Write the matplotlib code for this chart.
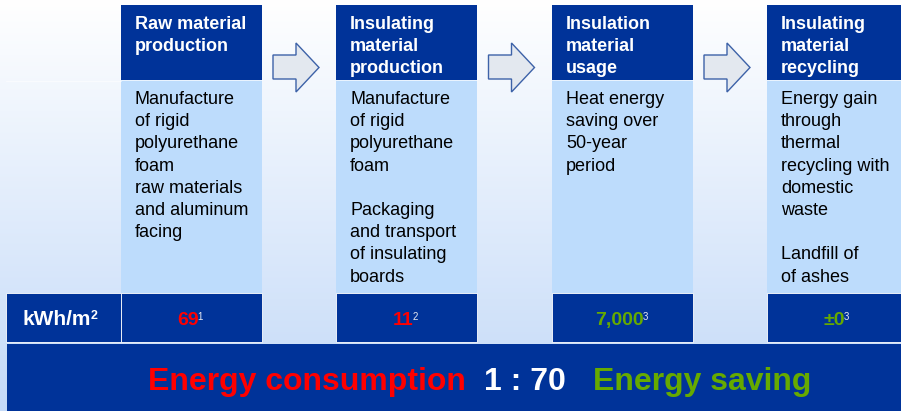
import matplotlib
matplotlib.use("Agg")
import matplotlib.pyplot as plt
from matplotlib.patches import Rectangle, Polygon
import numpy as np

# ── Content ───────────────────────────────────────────────────────────────────
STAGES = [
    ["Raw material", "production"],
    ["Insulating", "material", "production"],
    ["Insulation", "material", "usage"],
    ["Insulating", "material", "recycling"],
]
DESCRIPTIONS = [
    ["Manufacture", "of rigid", "polyurethane", "foam", "raw materials",
     "and aluminum", "facing"],
    ["Manufacture", "of rigid", "polyurethane", "foam", "",
     "Packaging", "and transport", "of insulating", "boards"],
    ["Heat energy", "saving over", "50-year", "period"],
    ["Energy gain", "through", "thermal", "recycling with", "domestic",
     "waste", "", "Landfill of", "of ashes"],
]
VALUES    = ["69", "11", "7,000", "±0"]
FOOTNOTES = ["1", "2", "3", "3"]
IS_SAVING = [False, False, True, True]
UNIT      = "kWh/m"
UNIT_EXP  = "2"
BANNER    = ["Energy consumption", "1 : 70", "Energy saving"]

# ── Colors ────────────────────────────────────────────────────────────────────
DARK   = "#003399"
BODY   = "#bddcfc"
RED    = "#ff0000"
GREEN  = "#66aa00"
ARROW_FC = "#e3e8ef"
ARROW_EC = "#3d62a8"
FONT   = "Liberation Sans"

# ── Layout (pixels) ───────────────────────────────────────────────────────────
W, H    = 901, 411
COL_X   = [121, 336, 552, 767]
COL_W   = 141
HEAD_TOP, HEAD_BOT = 5, 80
ROW_TOP, ROW_BOT   = 293, 342
BAN_TOP = 344
LINE    = 22.2

fig = plt.figure(figsize=(W / 100, H / 100), dpi=100)
ax = fig.add_axes([0, 0, 1, 1])
ax.set_xlim(0, W)
ax.set_ylim(H, 0)
ax.axis("off")

# background gradient (white -> pale blue)
top = np.array([1.0, 1.0, 1.0])
bot = np.array([196, 218, 248]) / 255
t = np.linspace(0, 1, 256)[:, None]
grad = (top * (1 - t) + bot * t)[:, None, :]
ax.imshow(grad, extent=[0, W, H, 0], aspect="auto", zorder=0)

# stage columns
for x, title, desc in zip(COL_X, STAGES, DESCRIPTIONS):
    ax.add_patch(Rectangle((x, HEAD_TOP), COL_W, HEAD_BOT - HEAD_TOP,
                           facecolor=DARK, edgecolor="none", zorder=1))
    ax.add_patch(Rectangle((x, HEAD_BOT), COL_W, ROW_TOP - HEAD_BOT,
                           facecolor=BODY, edgecolor="none", zorder=1))
    ax.plot([x, x + COL_W], [HEAD_BOT, HEAD_BOT], color="white", lw=0.6,
            alpha=0.8, zorder=2)
    for i, line in enumerate(title):
        ax.text(x + 14, 29 + i * LINE, line, color="white", fontsize=13,
                fontweight="bold", family=FONT, ha="left", va="baseline", zorder=3)
    for i, line in enumerate(desc):
        ax.text(x + 14, 104 + i * LINE, line, color="black", fontsize=13,
                family=FONT, ha="left", va="baseline", zorder=3)

# faint table line left of first column
ax.plot([6, COL_X[0]], [HEAD_BOT + 1, HEAD_BOT + 1], color="white", lw=0.6,
        alpha=0.6, zorder=2)

# block arrows between stages
for i in range(len(COL_X) - 1):
    gap_c = (COL_X[i] + COL_W + COL_X[i + 1]) / 2 - 3
    x0, x1 = gap_c - 23, gap_c + 23
    xh = x0 + 23
    pts = [(x0, 55), (xh, 55), (xh, 43), (x1, 67.5),
           (xh, 92), (xh, 79), (x0, 79)]
    ax.add_patch(Polygon(pts, closed=True, facecolor=ARROW_FC,
                         edgecolor=ARROW_EC, lw=1.0, zorder=2))

# data row
ax.add_patch(Rectangle((6, ROW_TOP), COL_X[0] - 6, ROW_BOT - ROW_TOP,
                       facecolor=DARK, edgecolor="white", lw=0.6, zorder=1))
unit = ax.text(23, 325, UNIT, color="white", fontsize=15, fontweight="bold",
               family=FONT, ha="left", va="baseline", zorder=3)

value_texts = []
for x, val, saving in zip(COL_X, VALUES, IS_SAVING):
    ax.add_patch(Rectangle((x, ROW_TOP), COL_W, ROW_BOT - ROW_TOP,
                           facecolor=DARK, edgecolor="white", lw=0.6, zorder=1))
    cx = x + COL_W / 2 - 3
    value_texts.append(ax.text(cx, 325, val, color=GREEN if saving else RED,
                               fontsize=14, fontweight="bold", family=FONT,
                               ha="center", va="baseline", zorder=3))

# superscripts: place right after the measured text extents
fig.canvas.draw()
renderer = fig.canvas.get_renderer()
inv = ax.transData.inverted()

def right_edge(txt):
    bb = txt.get_window_extent(renderer)
    return inv.transform((bb.x1, bb.y0))[0]

ax.text(right_edge(unit) - 1, 319, UNIT_EXP, color="white", fontsize=9,
        fontweight="bold", family=FONT, ha="left", va="baseline", zorder=3)
for txt, fn in zip(value_texts, FOOTNOTES):
    ax.text(right_edge(txt) - 1.5, 320, fn, color="#e6e8f0", fontsize=7,
            family=FONT, ha="left", va="baseline", zorder=3)

# bottom banner
ax.add_patch(Rectangle((7, BAN_TOP), W - 7, H - BAN_TOP,
                       facecolor=DARK, edgecolor="none", zorder=1))
for x, s, c in zip([148, 484, 593], BANNER, [RED, "white", GREEN]):
    ax.text(x, 390, s, color=c, fontsize=23, fontweight="bold", family=FONT,
            ha="left", va="baseline", zorder=3)

fig.savefig("out.png", dpi=100)
